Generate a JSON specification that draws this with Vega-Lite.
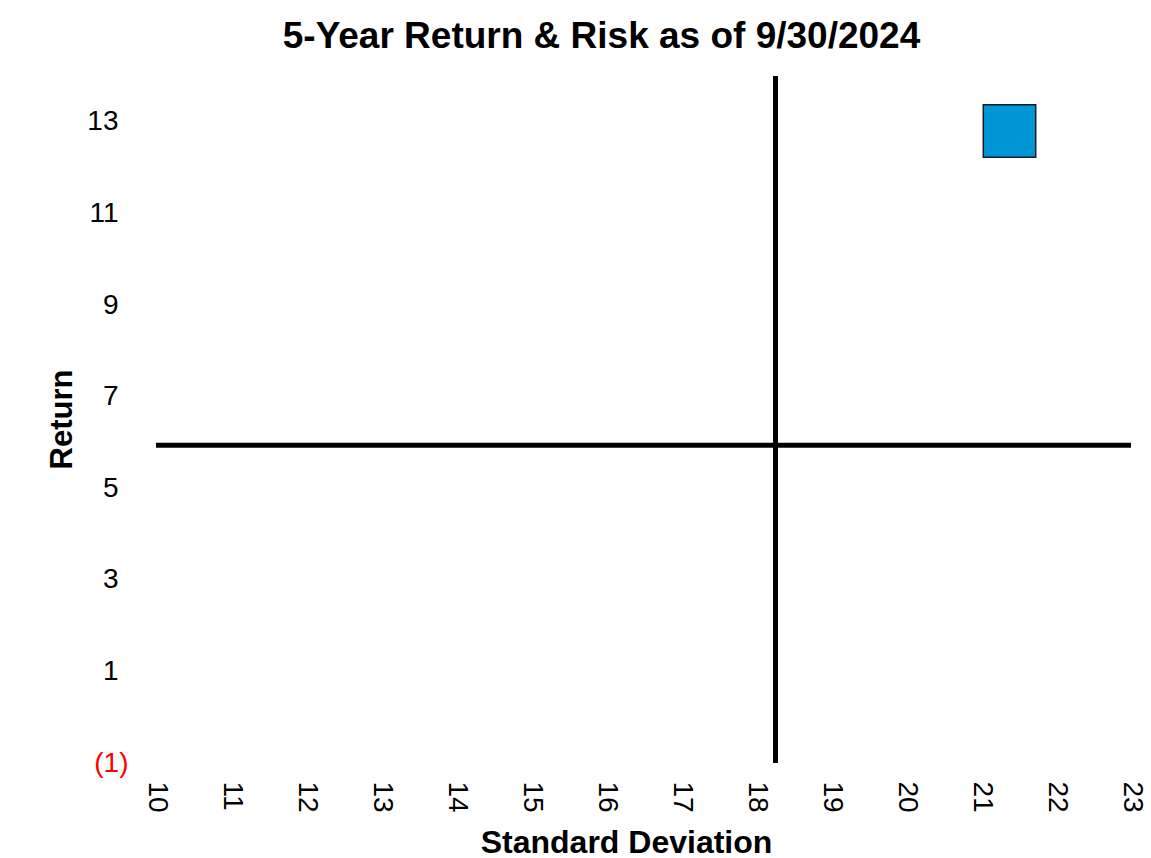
{
  "$schema": "https://vega.github.io/schema/vega-lite/v6.json",
  "width": 975,
  "height": 687,
  "autosize": {"type": "none"},
  "padding": {"left": 156, "top": 76, "right": 20, "bottom": 95},
  "background": "white",
  "config": {
    "view": {"stroke": null},
    "font": "Liberation Sans"
  },
  "title": {
    "text": "5-Year Return & Risk as of 9/30/2024",
    "font": "Liberation Sans",
    "fontSize": 37,
    "fontWeight": "bold",
    "color": "black",
    "anchor": "middle",
    "baseline": "alphabetic",
    "offset": 26,
    "dx": -42,
    "dy": 37
  },
  "layer": [
    {
      "data": {"values": [{"benchmark_sd": 18.26}]},
      "mark": {"type": "rule", "color": "black", "strokeWidth": 5},
      "encoding": {
        "x": {
          "field": "benchmark_sd",
          "type": "quantitative",
          "scale": {"domain": [10, 23], "nice": false, "zero": false},
          "axis": {
            "title": "Standard Deviation",
            "values": [10, 11, 12, 13, 14, 15, 16, 17, 18, 19, 20, 21, 22, 23],
            "format": "d",
            "labelAngle": 90,
            "labelAlign": "left",
            "labelBaseline": "middle",
            "labelPadding": 18,
            "labelFontSize": 28,
            "labelColor": "black",
            "labelFont": "Liberation Sans",
            "labelOverlap": false,
            "labelFlush": false,
            "domain": false,
            "ticks": false,
            "grid": false,
            "titleFontSize": 32,
            "titleFontWeight": "bold",
            "titleColor": "black",
            "titleFont": "Liberation Sans",
            "titleX": 470,
            "titleY": 89,
            "titleBaseline": "alphabetic",
            "titleAlign": "center"
          }
        }
      }
    },
    {
      "data": {"values": [{"benchmark_return": 5.94}]},
      "mark": {"type": "rule", "color": "black", "strokeWidth": 5},
      "encoding": {
        "y": {
          "field": "benchmark_return",
          "type": "quantitative",
          "scale": {"domain": [-1, 14], "nice": false, "zero": false},
          "axis": {
            "title": "Return",
            "values": [-1, 1, 3, 5, 7, 9, 11, 13],
            "labelExpr": "datum.value < 0 ? '(' + abs(datum.value) + ')' : '' + datum.value",
            "labelColor": {"condition": {"test": "datum.value < 0", "value": "#ff0000"}, "value": "black"},
            "labelPadding": {"condition": {"test": "datum.value < 0", "value": 28}, "value": 38},
            "labelFontSize": 28,
            "labelFont": "Liberation Sans",
            "labelOverlap": false,
            "labelFlush": false,
            "domain": false,
            "ticks": false,
            "grid": false,
            "titleFontSize": 31,
            "titleFontWeight": "bold",
            "titleColor": "black",
            "titleFont": "Liberation Sans",
            "titleAngle": -90,
            "titleX": -85,
            "titleY": 343,
            "titleBaseline": "alphabetic",
            "titleAlign": "center"
          }
        }
      }
    },
    {
      "data": {"values": [{"std_dev": 21.38, "return": 12.8}]},
      "mark": {"type": "point", "shape": "square", "filled": true, "size": 2750, "fill": "#0096d6", "stroke": "#1a1a24", "strokeWidth": 1.5, "opacity": 1},
      "encoding": {
        "x": {"field": "std_dev", "type": "quantitative"},
        "y": {"field": "return", "type": "quantitative"}
      }
    }
  ]
}
